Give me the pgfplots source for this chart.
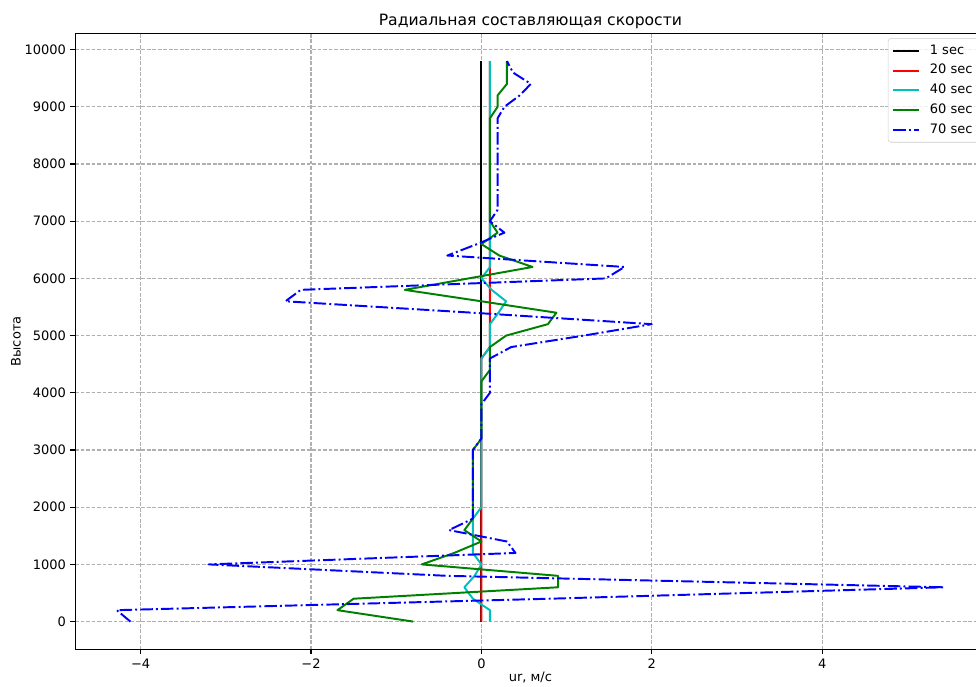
\documentclass[border=0pt]{standalone}
\usepackage{fontspec}
\setmainfont{DejaVu Sans}
\usepackage{pgfplots}
\pgfplotsset{compat=1.18}
\definecolor{mplcyan}{rgb}{0,0.75,0.75}
\definecolor{mplgreen}{rgb}{0,0.5,0}
\definecolor{mplgrid}{HTML}{B0B0B0}
\definecolor{mplblue}{rgb}{0,0,1}
\begin{document}
\begin{tikzpicture}
\begin{axis}[
  at={(0,0)}, anchor=south west,
  scale only axis, width=700.4pt, height=474.2pt,
  xmin=-4.77, xmax=5.92, ymin=-490, ymax=10290,
  scaled y ticks=false, scaled x ticks=false,
  xtick={-4,-2,0,2,4}, xticklabels={−4,−2,0,2,4},
  ytick={0,1000,2000,3000,4000,5000,6000,7000,8000,9000,10000},
  yticklabels={0,1000,2000,3000,4000,5000,6000,7000,8000,9000,10000},
  tick align=outside, tick pos=left, major tick length=3.5pt,
  tick style={black, line width=0.8pt},
  axis line style={black, line width=0.8pt},
  grid=major,
  major grid style={mplgrid, line width=0.8pt, dash pattern=on 2.96pt off 1.28pt},
  tick label style={font=\fontsize{10}{12}\selectfont},
  xlabel={ur, м/с}, ylabel={Высота},
  label style={font=\fontsize{10}{12}\selectfont},
  xlabel style={yshift=4pt},
  ylabel style={yshift=-4pt},
  title={Радиальная составляющая скорости},
  title style={font=\fontsize{12}{14}\selectfont, yshift=-6.5pt},
  legend cell align=left,
  legend image code/.code={\draw[#1] (0pt,0pt) -- (20pt,0pt);},
  legend style={at={(rel axis cs:0,1)}, anchor=north west, xshift=625.2pt, yshift=-4pt,
    draw=black!20, rounded corners=2pt, fill=white, fill opacity=0.8, text opacity=1, draw opacity=1,
    font=\fontsize{10}{12}\selectfont, inner xsep=3pt, inner ysep=2.5pt, row sep=1.2pt,
    nodes={inner sep=2pt, text height=7.5pt, text depth=2.5pt},
    /tikz/every odd column/.append style={column sep=5.5pt}},
  every axis plot/.append style={line width=1.5pt, line join=round},
]
\addplot[black] coordinates {(0,0) (0,9800)};
\addlegendentry{1 sec}
\addplot[red] coordinates {(0,0) (0,4600) (0.1,4800) (0.1,9800)};
\addlegendentry{20 sec}
\addplot[mplcyan] coordinates {
(0.1,0) (0.1,200) (-0.1,400) (-0.2,600) (-0.08,800) (0,1000) (-0.1,1200) (-0.1,1400) (-0.1,1600) (-0.1,1800)
(0,2000) (0,4600) (0.1,4800) (0.1,5000) (0.1,5200) (0.2,5400) (0.29,5600) (0.12,5800) (0,6000) (0.1,6200) (0.1,9800)};
\addlegendentry{40 sec}
\addplot[mplgreen] coordinates {
(-0.8,0) (-1.69,200) (-1.5,400) (0.9,600) (0.9,800) (-0.7,1000) (-0.32,1200) (0,1400) (-0.2,1600) (-0.1,1800)
(-0.1,3000) (0,3200) (0,4200) (0.1,4400) (0.1,4800) (0.29,5000) (0.78,5200) (0.88,5400) (0,5600) (-0.9,5800)
(-0.15,6000) (0.6,6200) (0.21,6400) (0,6600) (0.19,6800) (0.1,7000) (0.1,8800) (0.19,9000) (0.19,9200) (0.3,9400) (0.3,9800)};
\addlegendentry{60 sec}
\addplot[mplblue, dash pattern=on 9.6pt off 2.4pt on 1.5pt off 2.4pt] coordinates {
(-4.12,0) (-4.28,200) (0.8,400) (5.43,600) (-0.4,800) (-3.2,1000) (0.4,1200) (0.3,1400) (-0.38,1600) (-0.1,1800)
(-0.1,3000) (0,3200) (0,3800) (0.1,4000) (0.1,4600) (0.35,4800) (1.2,5000) (2.0,5200) (-0.1,5400) (-2.3,5600)
(-2.12,5800) (1.46,6000) (1.68,6200) (-0.4,6400) (-0.05,6600) (0.27,6800) (0.1,7000) (0.19,7200) (0.19,8800)
(0.27,9000) (0.45,9200) (0.58,9400) (0.37,9600) (0.3,9800)};
\addlegendentry{70 sec}
\end{axis}
\pgfresetboundingbox
\path[use as bounding box] (-57.7pt,-28.5pt) rectangle (692.9pt,499.6pt);
\end{tikzpicture}
\end{document}
